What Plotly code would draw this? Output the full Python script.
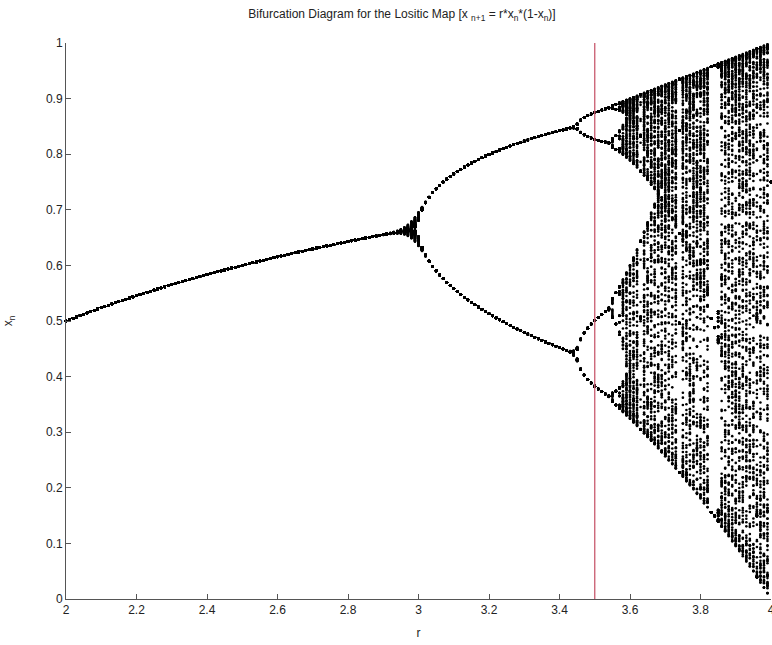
import numpy as np
import plotly.graph_objects as go

# Parameter values of r sampled by the diagram (columns of dots)
r_values = np.round(np.arange(2.0, 4.0001, 0.01), 4).tolist()
x_start = 0.25         # initial condition x_0
n_transient = 50       # iterations discarded
n_keep = 200           # iterations plotted per r
marker_line_r = 3.5    # red vertical reference line

x_ticks = [2, 2.2, 2.4, 2.6, 2.8, 3, 3.2, 3.4, 3.6, 3.8, 4]
x_tick_text = ["2", "2.2", "2.4", "2.6", "2.8", "3", "3.2", "3.4", "3.6", "3.8", "4"]
y_ticks = [0, 0.1, 0.2, 0.3, 0.4, 0.5, 0.6, 0.7, 0.8, 0.9, 1]
y_tick_text = ["0", "0.1", "0.2", "0.3", "0.4", "0.5", "0.6", "0.7", "0.8", "0.9", "1"]

# iterate the logistic map x_{n+1} = r*x_n*(1-x_n) as in the title
pts_r, pts_x = [], []
for r in r_values:
    x = x_start
    for _ in range(n_transient):
        x = r * x * (1 - x)
    for _ in range(n_keep):
        x = r * x * (1 - x)
        pts_r.append(r)
        pts_x.append(x)

fig = go.Figure()
fig.add_trace(go.Scatter(x=pts_r, y=pts_x, mode="markers",
                         marker=dict(color="black", size=2.6, symbol="circle", line=dict(width=0)),
                         showlegend=False, hoverinfo="skip", cliponaxis=False))
fig.add_shape(type="line", x0=marker_line_r, x1=marker_line_r, y0=0, y1=1,
              xref="x", yref="y", line=dict(color="rgb(200,90,110)", width=1.3))

fig.update_layout(
    width=772, height=645,
    margin=dict(l=66, r=1, t=43, b=46, autoexpand=False),
    paper_bgcolor="white", plot_bgcolor="white",
    font=dict(family="Liberation Sans, Arial, sans-serif", color="#222", size=12),
    title=dict(text="Bifurcation Diagram for the Lositic Map [x <sub>n+1</sub> = r*x<sub>n</sub>*(1-x<sub>n</sub>)]",
               x=402/772, xanchor="center", y=0.985, yanchor="top",
               font=dict(size=12)),
    xaxis=dict(range=[2, 4], tickvals=x_ticks, ticktext=x_tick_text, automargin=False,
               showgrid=False, zeroline=False, showline=True, linecolor="#555", linewidth=1,
               ticks="inside", ticklen=5, tickcolor="#555", ticklabeloverflow="allow",
               tickfont=dict(size=12),
               title=dict(text="r", standoff=12, font=dict(size=12))),
    yaxis=dict(range=[0, 1], tickvals=y_ticks, ticktext=y_tick_text, automargin=False,
               showgrid=False, zeroline=False, showline=True, linecolor="#555", linewidth=1,
               ticks="inside", ticklen=5, tickcolor="#555",
               tickfont=dict(size=12),
               title=dict(text="x<sub>n</sub>", standoff=30, font=dict(size=12))),
)

fig.write_html("out.html")
